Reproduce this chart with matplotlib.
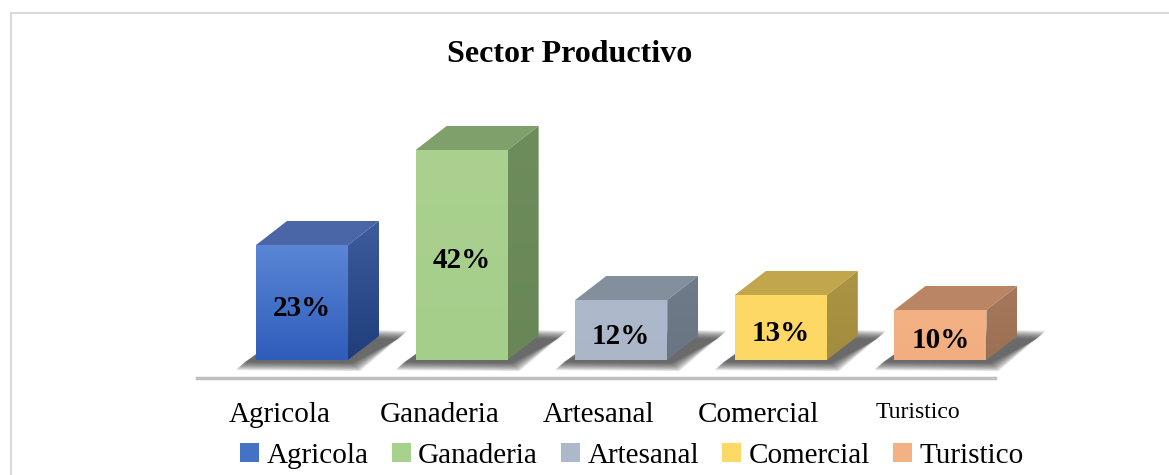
import numpy as np
import matplotlib.pyplot as plt
from matplotlib.patches import Polygon, Patch
from matplotlib.colors import LinearSegmentedColormap
from matplotlib.lines import Line2D

# datos
categorias = ['Agricola', 'Ganaderia', 'Artesanal', 'Comercial', 'Turistico']
porcentajes = [23, 42, 12, 13, 10]
etiquetas = ['23%', '42%', '12%', '13%', '10%']

# colores de cada cara (frente arriba/abajo, tapa, lado arriba/abajo)
frente_arriba = ['#5a86d6', '#aad18f', '#aebacb', '#ffd966', '#f4b183']
frente_abajo = ['#2f5dbb', '#a6ce8b', '#abb7c8', '#fed865', '#f2ae80']
tapa = ['#4a66a6', '#7fa06a', '#848f9d', '#c2a64c', '#ba8564']
lado_arriba = ['#3c5c9c', '#6e8d5c', '#707b89', '#ab9442', '#a6775b']
lado_abajo = ['#203e7c', '#688656', '#6a7583', '#a38c3d', '#9c7054']
leyenda_col = ['#4472c4', '#a9d18e', '#adb9ca', '#ffd966', '#f4b183']

plt.rcParams['font.family'] = ['Liberation Serif', 'DejaVu Serif']

W, H = 1169, 475
fig = plt.figure(figsize=(W / 100, H / 100), dpi=100)
ax = fig.add_axes([197 / W, (H - 378) / H, (1100 - 197) / W, (378 - 100) / H])

px_x = 1 / 159.6   # unidades x por pixel
px_y = 1 / 5.0     # unidades y por pixel
x0 = -0.658
xlim = (x0, x0 + (1100 - 197) * px_x)
ylim = (-18 * px_y, (360 - 100) * px_y)
piso = (x0, x0 + 5)

ancho = 92 * px_x
dx = 31 * px_x
dy = 24 * px_y


def cara(pts, c1, c2, z):
    poly = Polygon(pts, closed=True, facecolor='none', edgecolor='none', zorder=z)
    ax.add_patch(poly)
    xs = [p[0] for p in pts]
    ys = [p[1] for p in pts]
    cmap = LinearSegmentedColormap.from_list('g', [c2, c1])
    grad = np.linspace(0, 1, 64).reshape(-1, 1)
    im = ax.imshow(grad, cmap=cmap, extent=(min(xs), max(xs), min(ys), max(ys)),
                   origin='lower', aspect='auto', zorder=z, interpolation='bilinear')
    im.set_clip_path(poly)


for i, v in enumerate(porcentajes):
    L = i - ancho / 2
    R = i + ancho / 2
    # sombra difusa detras de la barra
    for k in range(10):
        e = (9 - k) * 0.9
        sombra = [(L - (12 + e) * px_x, -(2 + e) * px_y),
                  (R + (4 + e) * px_x, -(3 + e) * px_y),
                  (R + dx + (20 + e) * px_x, dy - (3 - e) * px_y),
                  (L + dx, dy + e * px_y)]
        ax.add_patch(Polygon(sombra, closed=True, facecolor='#2a2a2a', edgecolor='none',
                             alpha=0.11, zorder=1))
    # tapa
    ax.add_patch(Polygon([(L, v), (R, v), (R + dx, v + dy), (L + dx, v + dy)],
                         closed=True, facecolor=tapa[i], edgecolor='none', zorder=3))
    # lado
    cara([(R, 0), (R + dx, dy), (R + dx, v + dy), (R, v)], lado_arriba[i], lado_abajo[i], 3)
    # frente
    cara([(L, 0), (R, 0), (R, v), (L, v)], frente_arriba[i], frente_abajo[i], 4)
    ax.text(i, v / 2 - 1.2, etiquetas[i], ha='center', va='center', fontsize=21,
            fontweight='bold', zorder=6)

ax.plot(piso, [ylim[0], ylim[0]], color='#c0c0c0', lw=2.5, clip_on=False, zorder=2)

ax.set_xlim(xlim)
ax.set_ylim(ylim)
for s in ax.spines.values():
    s.set_visible(False)
ax.set_yticks([])
ax.set_xticks(np.arange(5) - 0.14, categorias)
ax.tick_params(axis='x', length=0, pad=17, labelsize=21)
ax.get_xticklabels()[-1].set_fontsize(17)

fig.text(570 / W, 1 - 55 / H, 'Sector Productivo', ha='center', va='center',
         fontsize=23, fontweight='bold')

handles = [Patch(facecolor=c, edgecolor='none') for c in leyenda_col]
fig.legend(handles, categorias, loc='center', bbox_to_anchor=(632 / W, 1 - 456 / H),
           ncol=5, frameon=False, fontsize=21, handlelength=0.65, handleheight=0.65,
           handletextpad=0.25, columnspacing=0.8, borderpad=0)

# marco del grafico
fig.add_artist(Line2D([10.5 / W, 10.5 / W], [0, 1 - 12.5 / H], color='#d9d9d9', lw=1.5))
fig.add_artist(Line2D([10.5 / W, 1], [1 - 12.5 / H, 1 - 12.5 / H], color='#d9d9d9', lw=1.5))

fig.savefig('out.png', dpi=100, facecolor='white')
